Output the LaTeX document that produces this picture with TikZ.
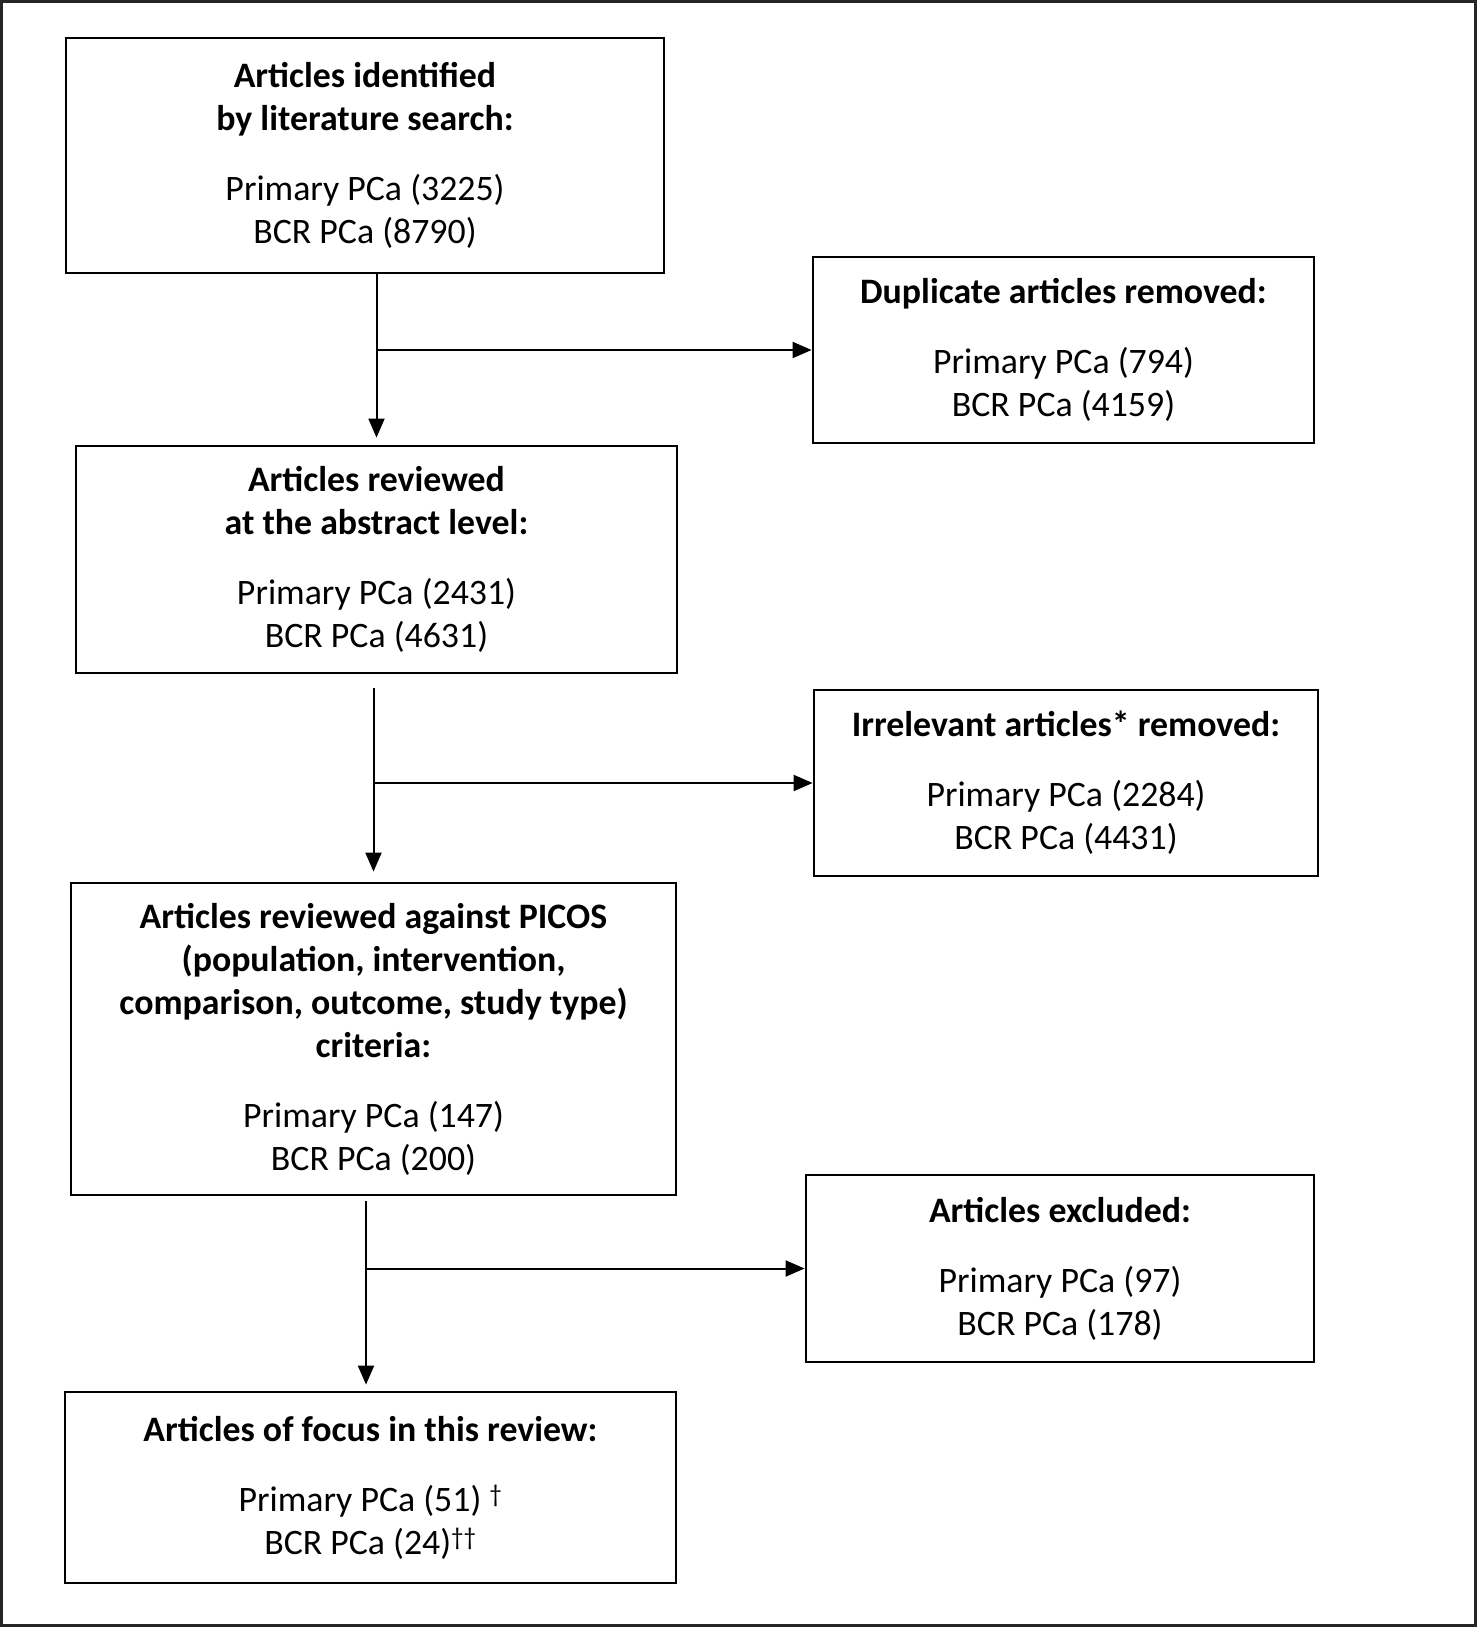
\documentclass[tikz,border=0pt]{standalone}
\usepackage{fontspec}
\setmainfont{Carlito}
\usetikzlibrary{arrows.meta}

\begin{document}
\begin{tikzpicture}[x=1bp,y=-1bp,
  boxart/.style={draw, line width=2.8bp, align=center, inner sep=0pt,
    font={\fontsize{35.8bp}{43bp}\selectfont}},
  flow/.style={line width=2bp, -{Triangle[width=16bp,length=19bp]}}]

\useasboundingbox (0,0) rectangle (1477,1627);
\draw[line width=3bp, black!85] (1.5,1.5) rectangle (1475.5,1625.5);

\node[boxart, minimum width=598bp, minimum height=235bp] (search) at (365,155.5)
  {\textbf{Articles identified}\\ \textbf{by literature search:}\\[27bp]
   Primary PCa (3225)\\ BCR PCa (8790)};
\node[boxart, minimum width=501bp, minimum height=186bp] (dupl) at (1063.5,350)
  {\textbf{Duplicate articles removed:}\\[27bp]
   Primary PCa (794)\\ BCR PCa (4159)};
\node[boxart, minimum width=601bp, minimum height=227bp] (abstr) at (376.5,559.5)
  {\textbf{Articles reviewed}\\ \textbf{at the abstract level:}\\[27bp]
   Primary PCa (2431)\\ BCR PCa (4631)};
\node[boxart, minimum width=504bp, minimum height=186bp] (irrel) at (1066,783)
  {\textbf{Irrelevant articles* removed:}\\[27bp]
   Primary PCa (2284)\\ BCR PCa (4431)};
\node[boxart, minimum width=605bp, minimum height=312bp] (picos) at (373.5,1039)
  {\textbf{Articles reviewed against PICOS}\\ \textbf{(population, intervention,}\\
   \textbf{comparison, outcome, study type)}\\ \textbf{criteria:}\\[27bp]
   Primary PCa (147)\\ BCR PCa (200)};
\node[boxart, minimum width=508bp, minimum height=187bp] (excl) at (1060,1268.5)
  {\textbf{Articles excluded:}\\[27bp]
   Primary PCa (97)\\ BCR PCa (178)};
\node[boxart, minimum width=611bp, minimum height=191bp] (focus) at (370.5,1487.5)
  {\textbf{Articles of focus in this review:}\\[27bp]
   Primary PCa (51) \textsuperscript{\textdagger}\\ BCR PCa (24)\textsuperscript{\textdagger\textdagger}};

\coordinate (fx) at ([xshift=-4.5bp]focus.north);

\draw[flow, shorten >=7bp] (abstr.north |- search.south) -- (abstr.north);
\draw[flow] (abstr.north |- dupl.west) -- (dupl.west);

\draw[flow, shorten <=14bp, shorten >=10bp] (picos.north |- abstr.south) -- (picos.north);
\draw[flow] (picos.north |- irrel.west) -- (irrel.west);

\draw[flow, shorten <=5bp, shorten >=6bp] (fx |- picos.south) -- (fx);
\draw[flow] (fx |- excl.west) -- (excl.west);
\end{tikzpicture}
\end{document}
